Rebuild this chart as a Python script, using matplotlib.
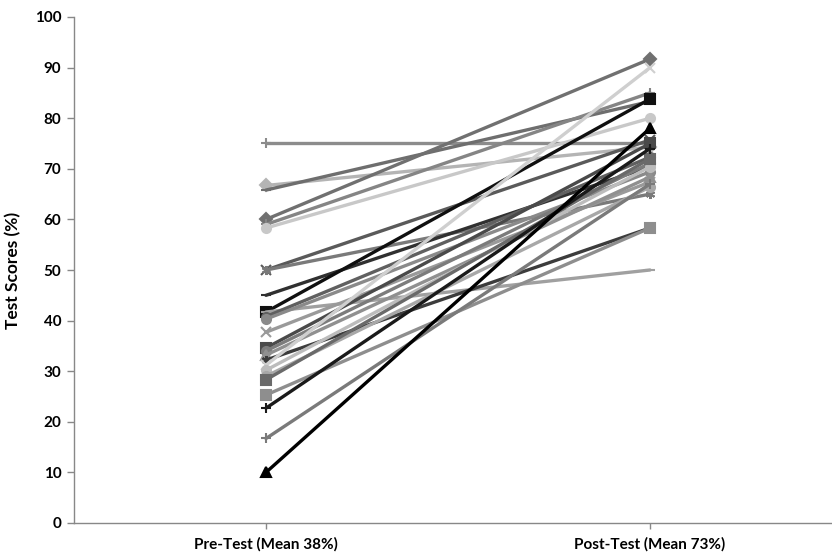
import matplotlib
matplotlib.use("Agg")
import matplotlib.pyplot as plt

categories = ["Pre-Test (Mean 38%)", "Post-Test (Mean 73%)"]
pre_scores = [75.0, 66.7, 65.8, 60.0, 59.0, 58.3, 50.0, 50.0, 45.0, 41.7, 41.7, 40.8, 40.3,
              37.7, 34.6, 34.0, 33.2, 32.2, 31.2, 30.2, 29.0, 28.3, 25.3, 22.7, 16.7, 10.0]
post_scores = [75.0, 74.3, 83.3, 91.7, 85.0, 80.0, 75.7, 65.0, 70.4, 83.8, 50.0, 72.3, 69.4,
               67.4, 75.0, 71.1, 68.4, 58.3, 90.0, 70.4, 66.4, 72.0, 58.3, 74.0, 67.0, 78.0]
y_ticks = [0, 10, 20, 30, 40, 50, 60, 70, 80, 90, 100]

# styles (per series)
colors = ["#8c8c8c", "#b4b4b4", "#6e6e6e", "#707070", "#858585", "#c8c8c8", "#5a5a5a", "#7a7a7a",
          "#303030", "#101010", "#a0a0a0", "#606060", "#8a8a8a", "#9a9a9a", "#4a4a4a", "#7c7c7c",
          "#909090", "#3c3c3c", "#cfcfcf", "#bcbcbc", "#a8a8a8", "#6a6a6a", "#8e8e8e", "#1a1a1a",
          "#7a7a7a", "#000000"]
markers = ["+", "D", "_", "D", "+", "o", "x", (6, 2, 0), "_", "s", "_", "o", "o",
           "x", "s", "o", "^", (6, 2, 0), "x", "o", "o", "s", "s", "+", "+", "^"]

plt.rcParams['font.family'] = ['Lato', 'DejaVu Sans']
fig = plt.figure(figsize=(8.32, 5.54), dpi=100)
ax = fig.add_axes([74/832, 31/554, 768/832, 506/554])

xs = list(range(len(categories)))
for pre, post, c, m in zip(pre_scores, post_scores, colors, markers):
    ax.plot(xs, [pre, post], color=c, lw=2.4, marker=m, ms=6.5, mew=1.5,
            solid_capstyle='round', zorder=3)

ax.set_xlim(-0.5, 1.5)
ax.set_ylim(0, 100)
ax.set_yticks(y_ticks)
ax.set_xticks(xs)
ax.set_xticklabels(categories, fontsize=11, fontweight='bold')
ax.tick_params(axis='y', labelsize=11, direction='out', length=5, color='#888888', width=1, pad=4)
for lbl in ax.get_yticklabels():
    lbl.set_fontweight('bold')
ax.tick_params(axis='x', direction='out', length=4, color='#888888', width=1, pad=6)
for s in ['top', 'right']:
    ax.spines[s].set_visible(False)
for s in ['left', 'bottom']:
    ax.spines[s].set_color('#888888')
    ax.spines[s].set_linewidth(1)
ax.set_ylabel("Test Scores (%)", fontsize=12.5, fontweight='bold', labelpad=10)
ax.patch.set_alpha(0)

fig.savefig("out.png", dpi=100)
